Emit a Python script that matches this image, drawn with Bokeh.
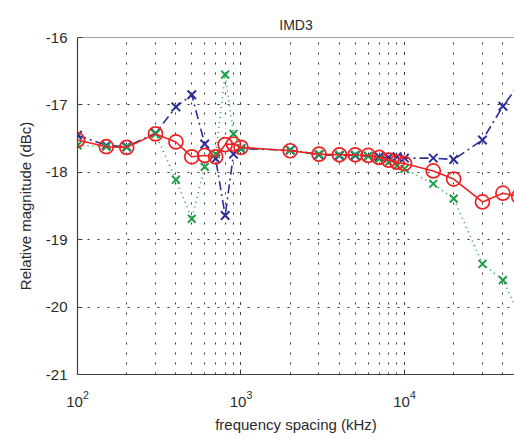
from bokeh.plotting import figure
from bokeh.models import LogTicker, FixedTicker, Span, Range1d, PrintfTickFormatter
from bokeh.embed import file_html
from bokeh.resources import INLINE

freq = [100, 150, 200, 300, 400, 500, 600, 700, 800, 900, 1000, 2000, 3000, 4000,
        5000, 6000, 7000, 8000, 9000, 10000, 15000, 20000, 30000, 40000, 50000]
red = [-17.52, -17.62, -17.63, -17.43, -17.55, -17.77, -17.75, -17.77, -17.59, -17.58,
       -17.63, -17.68, -17.73, -17.74, -17.74, -17.75, -17.78, -17.82, -17.85, -17.87,
       -17.98, -18.10, -18.44, -18.31, -18.36]
blue = [-17.45, -17.60, -17.62, -17.42, -17.03, -16.85, -17.58, -17.80, -18.64, -17.73,
        -17.65, -17.67, -17.74, -17.75, -17.75, -17.76, -17.77, -17.78, -17.77, -17.79,
        -17.79, -17.81, -17.52, -17.02, -16.70]
green = [-17.60, -17.62, -17.63, -17.43, -18.11, -18.69, -17.92, -17.73, -16.55, -17.43,
         -17.65, -17.67, -17.73, -17.74, -17.74, -17.76, -17.80, -17.85, -17.90, -17.95,
         -18.17, -18.39, -19.36, -19.60, -20.10]
yticks = [-21, -20, -19, -18, -17, -16]

FONT = "Liberation Sans"
TXT = "#2a2a2a"

p = figure(width=514, height=439, x_axis_type="log",
           x_range=Range1d(100, 10 ** 4.673), y_range=Range1d(-21, -16),
           output_backend="svg", toolbar_location=None,
           min_border_left=77, min_border_right=0, min_border_top=37, min_border_bottom=65,
           title="IMD3")
p.title.align = "center"
p.title.text_font = FONT
p.title.text_font_size = "14px"
p.title.text_font_style = "normal"
p.title.text_color = TXT
p.title.offset = -4

p.outline_line_color = None
p.background_fill_color = "white"
p.border_fill_color = "white"

p.xaxis.ticker = LogTicker(desired_num_ticks=3, num_minor_ticks=10)
p.yaxis.ticker = FixedTicker(ticks=yticks)
p.yaxis.formatter = PrintfTickFormatter(format="%d")

for ax in (p.xaxis[0], p.yaxis[0]):
    ax.axis_line_color = "#404040"
    ax.axis_line_width = 1.2
    ax.major_tick_in = 5
    ax.major_tick_out = 0
    ax.major_tick_line_color = "#404040"
    ax.minor_tick_line_color = None
    ax.major_label_text_font = FONT
    ax.major_label_text_font_size = "15px"
    ax.major_label_text_color = TXT
    ax.axis_label_text_font = FONT
    ax.axis_label_text_font_size = "15px"
    ax.axis_label_text_font_style = "normal"
    ax.axis_label_text_color = TXT

p.xaxis.axis_label = "frequency spacing (kHz)"
p.yaxis.axis_label = "Relative magnitude (dBc)"
p.xaxis.major_label_standoff = 12
p.yaxis.major_label_standoff = 10
p.xaxis.axis_label_standoff = 6
p.yaxis.axis_label_standoff = 9

p.xgrid.grid_line_color = "#333333"
p.xgrid.grid_line_dash = "2 8"
p.xgrid.grid_line_width = 1
p.xgrid.minor_grid_line_color = "#333333"
p.xgrid.minor_grid_line_dash = "2 8"
p.xgrid.minor_grid_line_width = 1
p.ygrid.grid_line_color = "#333333"
p.ygrid.grid_line_dash = "2 8"
p.ygrid.grid_line_width = 1

p.add_layout(Span(location=-16, dimension="width", line_color="#404040", line_width=1.2))

BLUE = "#2b2f9a"
GREEN = "#1f9e4a"
RED = "#ee2222"

p.line(freq, blue, line_color=BLUE, line_width=1.6, line_dash="9 4 2 4")
p.scatter(freq, blue, marker="x", size=12, line_color=BLUE, line_width=2)
p.line(freq, green, line_color=GREEN, line_width=1.6, line_dash="1 4")
p.scatter(freq, green, marker="x", size=11, line_color=GREEN, line_width=2)
p.line(freq, red, line_color=RED, line_width=1.6)
p.scatter(freq, red, marker="circle", size=14, line_color=RED, line_width=1.7, fill_color=None)

open("out.html", "w").write(file_html(p, INLINE))
